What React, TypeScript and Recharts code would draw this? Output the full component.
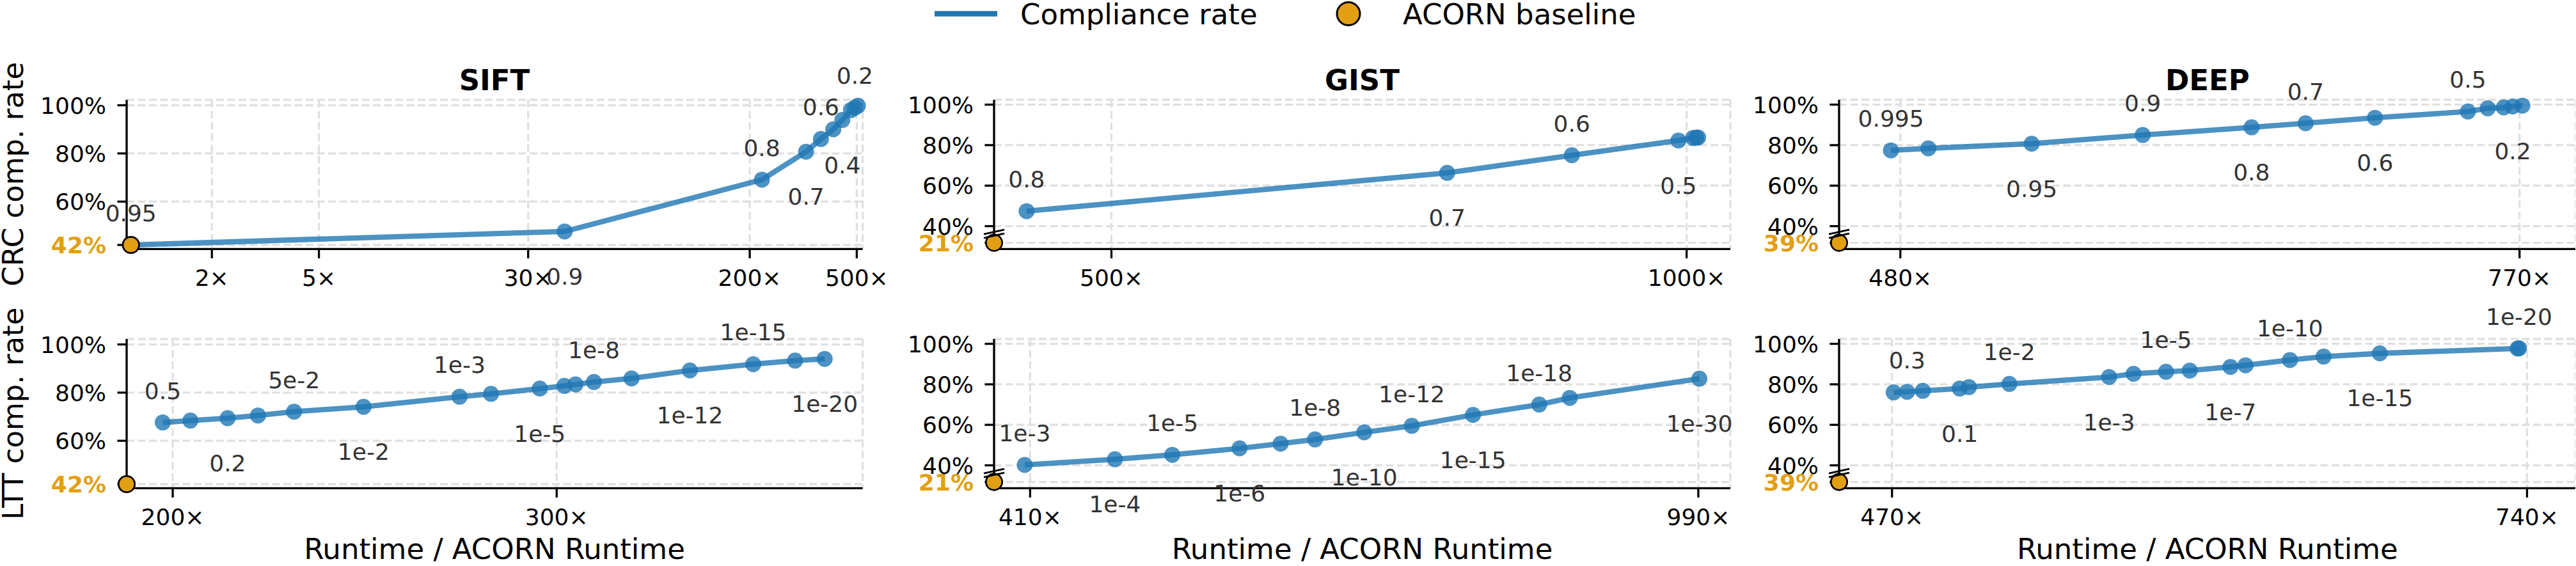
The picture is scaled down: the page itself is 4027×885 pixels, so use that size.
import React from "react";
import { CartesianGrid, ComposedChart, Line, Scatter, XAxis, YAxis } from "recharts";

const FONT = "'DejaVu Sans', sans-serif";
const BLUE = "#1f77b4";
const ORANGE = "#e29f12";
const GRID = "#e0e0e0";

// ACORN baseline compliance rate per dataset (%)
const datasets = ["SIFT", "GIST", "DEEP"];
const acornRate = [42, 21, 39];

// CRC: runtime / ACORN runtime, compliance rate (%), threshold label
const siftCrcRuntime = [1, 41, 222, 324, 368, 409, 442, 476, 492, 505];
const siftCrcRate = [42, 47.6, 69.1, 80.7, 86.0, 90.0, 93.9, 98.0, 99.0, 99.8];
const siftCrcLabels = ["0.95", "0.9", "0.8", "0.7", "0.6", "", "0.4", "", "0.2", ""];

const gistCrcRuntime = [426.3, 791.8, 900.2, 992.9, 1005.6, 1008.4, 1010];
const gistCrcRate = [47.4, 66.3, 75.0, 82.3, 83.5, 83.7, 83.8];
const gistCrcLabels = ["0.8", "0.7", "0.6", "0.5", "", "", ""];

const deepCrcRuntime = [475.6, 493.1, 541.5, 593.5, 644.5, 669.8, 702.3, 745.8, 755.1, 762.6, 766.8, 771.3];
const deepCrcRate = [77.4, 78.4, 80.7, 85.0, 88.8, 90.8, 93.5, 96.6, 98.2, 98.6, 99.1, 99.5];
const deepCrcLabels = ["0.995", "", "0.95", "0.9", "0.8", "0.7", "0.6", "0.5", "", "", "0.2", ""];

// LTT
const siftLttRuntime = [197.4, 204.6, 214.3, 222.2, 231.6, 249.7, 274.7, 282.9, 295.6, 302.0, 304.9, 309.7, 319.5, 334.7, 351.2, 362.1, 369.8];
const siftLttRate = [67.6, 68.4, 69.4, 70.5, 72.1, 74.1, 78.3, 79.5, 81.7, 82.8, 83.4, 84.4, 85.9, 89.2, 91.8, 93.3, 94.0];
const siftLttLabels = ["0.5", "", "0.2", "", "5e-2", "1e-2", "1e-3", "", "1e-5", "", "", "1e-8", "", "1e-12", "1e-15", "", "1e-20"];

const gistLttRuntime = [405.3, 483.6, 533.4, 591.8, 627.4, 657.3, 700, 741.3, 794.4, 851.9, 878.4, 990.9];
const gistLttRate = [40.2, 43.0, 45.2, 48.4, 50.7, 52.8, 56.3, 59.5, 64.9, 70.0, 73.3, 82.8];
const gistLttLabels = ["1e-3", "1e-4", "1e-5", "1e-6", "", "1e-8", "1e-10", "1e-12", "1e-15", "1e-18", "", "1e-30"];

const deepLttRuntime = [470.7, 476.4, 483.1, 498.8, 502.7, 519.9, 562.3, 572.7, 586.5, 596.6, 613.9, 620.3, 639.2, 653.5, 677.4, 736.0, 736.6];
const deepLttRate = [76.0, 76.3, 76.8, 77.9, 78.6, 80.2, 83.6, 85.2, 86.2, 86.8, 88.6, 89.4, 92.0, 93.7, 95.3, 97.7, 97.8];
const deepLttLabels = ["", "0.3", "", "0.1", "", "1e-2", "1e-3", "", "1e-5", "", "1e-7", "", "1e-10", "", "1e-15", "", "1e-20"];

// axis ticks
const siftCrcTicks = [2, 5, 30, 200, 500];
const gistCrcTicks = [500, 1000];
const deepCrcTicks = [480, 770];
const siftLttTicks = [200, 300];
const gistLttTicks = [410, 990];
const deepLttTicks = [470, 740];

// layout (px)
const COLS = [
  { left: 197.7, right: 1348.3, padRight: 40 },
  { left: 1554, right: 2705, padRight: 40 },
  { left: 2875.3, right: 4026.5, padRight: 0 },
];
const ROWS = [
  { top: 155.7, bottom: 389 },
  { top: 530, bottom: 763.3 },
];
const Y_AXIS_W = 140;
const TOP_PAD = 60;
const X_AXIS_H = 70;
const TICK_LEN = 14.6;
const LINE_W = 3.3;

// where the broken axis parks the baseline, below the 40% tick
const BREAK_POS = 40 - 8.21;

type PanelDef = {
  runtime: number[];
  rate: number[];
  labels: string[];
  xTicks: number[];
  xDomain: [number, number];
  log?: boolean;
  baseX?: number;
};

const panels: PanelDef[][] = [
  [
    { runtime: siftCrcRuntime, rate: siftCrcRate, labels: siftCrcLabels, xTicks: siftCrcTicks, xDomain: [0.964, 526], log: true, baseX: 1 },
    { runtime: gistCrcRuntime, rate: gistCrcRate, labels: gistCrcLabels, xTicks: gistCrcTicks, xDomain: [398, 1038] },
    { runtime: deepCrcRuntime, rate: deepCrcRate, labels: deepCrcLabels, xTicks: deepCrcTicks, xDomain: [451.3, 796.2] },
  ],
  [
    { runtime: siftLttRuntime, rate: siftLttRate, labels: siftLttLabels, xTicks: siftLttTicks, xDomain: [188, 379.7] },
    { runtime: gistLttRuntime, rate: gistLttRate, labels: gistLttLabels, xTicks: gistLttTicks, xDomain: [378.7, 1017.8] },
    { runtime: deepLttRuntime, rate: deepLttRate, labels: deepLttLabels, xTicks: deepLttTicks, xDomain: [447.5, 760.6] },
  ],
];

const XTick = ({ x, y, payload }: any) => (
  <text x={x} y={y + 43} textAnchor="middle" fontSize={36} fontFamily={FONT} fill="#000">
    {`${payload.value}×`}
  </text>
);

const makeYTick = (basePos: number, acorn: number) => ({ x, y, payload }: any) => {
  const isBase = payload.value === basePos;
  return (
    <text
      x={x}
      y={y + 13}
      textAnchor="end"
      fontSize={36}
      fontFamily={FONT}
      fontWeight={isBase ? "bold" : "normal"}
      fill={isBase ? ORANGE : "#000"}
    >
      {isBase ? `${acorn}%` : `${payload.value}%`}
    </text>
  );
};

const BaselineMarker = ({ cx, cy, broken }: any) => (
  <g>
    <circle cx={cx} cy={cy} r={12.7} fill={ORANGE} stroke="#000" strokeWidth={2.7} />
    {broken &&
      [-17, -11].map((d) => (
        <line key={d} x1={cx - 16} y1={cy + d + 3.5} x2={cx + 16} y2={cy + d - 3.5} stroke="#000" strokeWidth={3} />
      ))}
  </g>
);

const PointLabel = ({ cx, cy, payload }: any) => {
  if (!payload.label) return <g />;
  const dy = payload.side === "above" ? -37 : 83;
  return (
    <text x={cx} y={cy + dy} textAnchor="middle" fontSize={36} fontFamily={FONT} fill="#333">
      {payload.label}
    </text>
  );
};

function Panel({ def, row, col, acorn }: { def: PanelDef; row: number; col: number; acorn: number }) {
  const c = COLS[col];
  const r = ROWS[row];
  const plotW = c.right - c.left;
  const plotH = r.bottom - r.top;
  const broken = acorn < 40;
  const basePos = broken ? BREAK_POS : acorn;
  const yDomain: [number, number] = broken ? [28.73, 102.4] : [40.33, 102.28];
  const yTicks = broken ? [basePos, 40, 60, 80, 100] : [basePos, 60, 80, 100];

  let k = 0;
  const points = def.runtime.map((x, i) => {
    const label = def.labels[i];
    const side = label ? (k++ % 2 === 0 ? "above" : "below") : null;
    return { x, y: def.rate[i], label, side };
  });
  const baseline = [{ x: def.baseX ?? def.xDomain[0], y: basePos }];

  return (
    <div style={{ position: "absolute", left: c.left - Y_AXIS_W, top: r.top - TOP_PAD }}>
      <ComposedChart
        width={Y_AXIS_W + plotW + c.padRight}
        height={TOP_PAD + plotH + X_AXIS_H}
        margin={{ top: TOP_PAD, right: c.padRight, bottom: 0, left: 0 }}
      >
        <CartesianGrid stroke={GRID} strokeWidth={LINE_W} strokeDasharray="12 5.5" />
        <XAxis
          type="number"
          dataKey="x"
          scale={def.log ? "log" : "linear"}
          domain={def.xDomain}
          ticks={def.xTicks}
          interval={0}
          height={X_AXIS_H}
          tickSize={TICK_LEN}
          tickMargin={0}
          axisLine={{ stroke: "#000", strokeWidth: LINE_W }}
          tickLine={{ stroke: "#000", strokeWidth: LINE_W }}
          tick={XTick}
        />
        <YAxis
          type="number"
          dataKey="y"
          domain={yDomain}
          ticks={yTicks}
          interval={0}
          width={Y_AXIS_W}
          tickSize={TICK_LEN}
          tickMargin={17.4}
          axisLine={{ stroke: "#000", strokeWidth: LINE_W }}
          tickLine={{ stroke: "#000", strokeWidth: LINE_W }}
          tick={makeYTick(basePos, acorn)}
        />
        <Line
          data={points}
          dataKey="y"
          type="linear"
          stroke={BLUE}
          strokeOpacity={0.8}
          strokeWidth={8.3}
          dot={{ r: 12.5, fill: BLUE, fillOpacity: 0.8, stroke: "none" }}
          activeDot={false}
          isAnimationActive={false}
        />
        <Scatter
          data={baseline}
          dataKey="y"
          shape={(p: any) => <BaselineMarker {...p} broken={broken} />}
          isAnimationActive={false}
        />
        <Line
          data={points}
          dataKey="y"
          stroke="none"
          dot={(p: any) => <PointLabel key={`lbl-${p.index}`} {...p} />}
          activeDot={false}
          isAnimationActive={false}
        />
      </ComposedChart>
    </div>
  );
}

function Overlay() {
  const rowLabels = ["CRC comp. rate", "LTT comp. rate"];
  return (
    <svg
      width={4027}
      height={885}
      style={{ position: "absolute", left: 0, top: 0, pointerEvents: "none" }}
      fontFamily={FONT}
    >
      {/* legend */}
      <line x1={1461} y1={21.5} x2={1559} y2={21.5} stroke={BLUE} strokeWidth={8.3} />
      <text x={1595} y={37.5} fontSize={45} fill="#000">Compliance rate</text>
      <circle cx={2108} cy={21.5} r={18} fill={ORANGE} stroke="#000" strokeWidth={3} />
      <text x={2193} y={37.5} fontSize={45} fill="#000">ACORN baseline</text>

      {datasets.map((name, i) => {
        const cx = (COLS[i].left + COLS[i].right) / 2;
        return (
          <g key={name}>
            <text x={cx} y={140.7} textAnchor="middle" fontSize={45} fontWeight="bold" fill="#000">{name}</text>
            <text x={cx} y={874} textAnchor="middle" fontSize={45} fill="#000">Runtime / ACORN Runtime</text>
          </g>
        );
      })}
      {rowLabels.map((label, i) => (
        <text
          key={label}
          transform={`translate(36, ${(ROWS[i].top + ROWS[i].bottom) / 2}) rotate(-90)`}
          textAnchor="middle"
          fontSize={45}
          fill="#000"
        >
          {label}
        </text>
      ))}
    </svg>
  );
}

export default function App() {
  return (
    <div style={{ position: "absolute", left: 0, top: 0, width: 4027, height: 885, overflow: "hidden", background: "#fff" }}>
      {panels.map((row, ri) =>
        row.map((def, ci) => <Panel key={`${ri}-${ci}`} def={def} row={ri} col={ci} acorn={acornRate[ci]} />)
      )}
      <Overlay />
    </div>
  );
}
